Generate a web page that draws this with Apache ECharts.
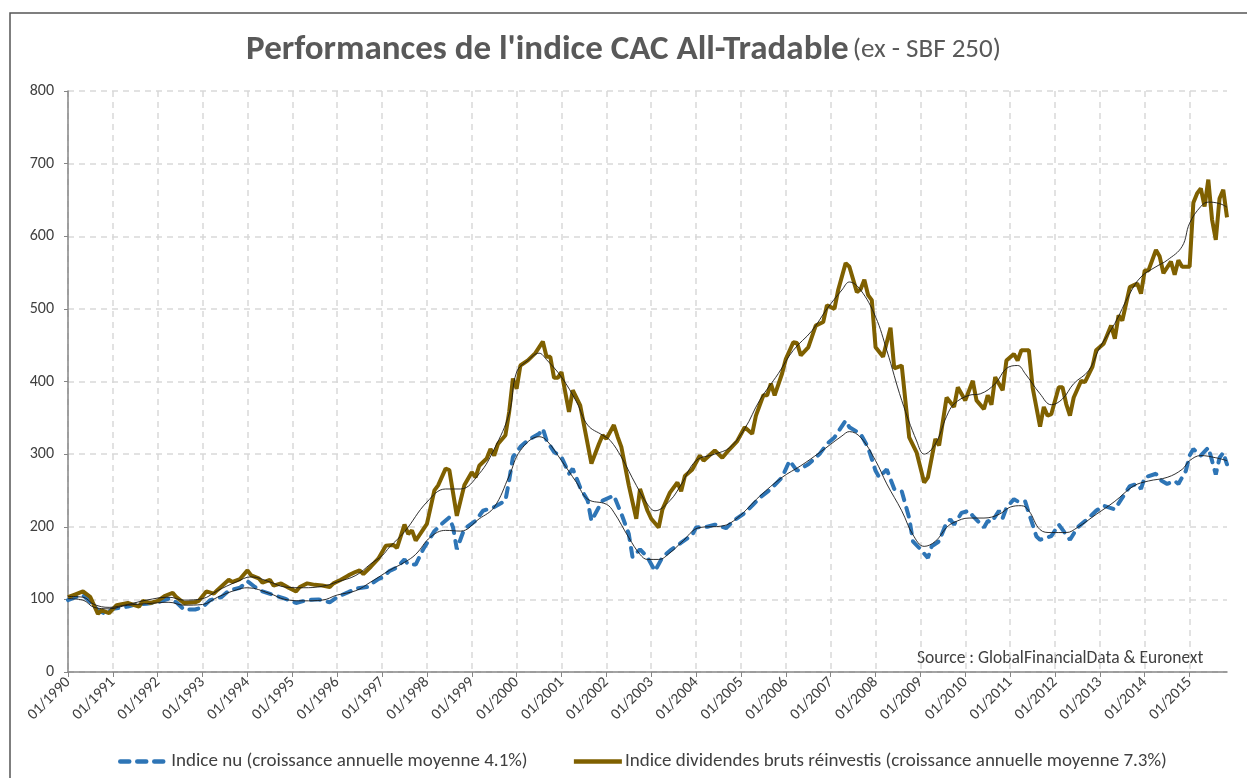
<!DOCTYPE html>
<html>
<head>
<meta charset="utf-8">
<script src="https://cdn.jsdelivr.net/npm/echarts@6/dist/echarts.min.js"></script>
<style>
  html, body { margin: 0; padding: 0; background: #fff; }
  #chart { width: 1247px; height: 778px; }
</style>
</head>
<body>
<div id="chart"></div>
<script>
// month labels 01/1990 .. 11/2015
const months = [];
for (let i = 0; i < 311; i++) {
  const y = 1990 + Math.floor(i / 12), m = (i % 12) + 1;
  months.push(String(m).padStart(2, '0') + '/' + y);
}

// [month index, value]
const indiceNu = [
  [0,99],[2,103],[4,106],[6,96],[8,85],[10,80],[12,87],[16,90],[18,93],[21,94],[24,96],[27,101],[29,96],
  [31,86],[34,86],[36,89],[38,99],[41,103],[43,112],[46,116],[48,125],[50,117],[52,111],[55,106],[58,101],
  [61,95],[64,99],[67,100],[70,96],[72,103],[75,110],[77,115],[80,117],[83,128],[84,130],[86,139],[88,144],
  [90,155],[91,148],[93,148],[95,169],[98,194],[100,204],[102,213],[103,199],[104,169],[106,197],[109,208],
  [111,222],[114,227],[117,236],[118,264],[119,296],[121,310],[123,319],[126,328],[127,335],[128,319],
  [130,303],[132,296],[134,273],[135,280],[137,254],[139,236],[140,208],[142,227],[143,236],[146,243],
  [148,218],[150,190],[151,158],[153,169],[155,158],[157,139],[159,158],[161,167],[164,178],[167,189],
  [168,199],[171,200],[173,203],[176,198],[178,208],[181,219],[183,229],[185,240],[188,252],[191,268],
  [193,291],[195,277],[198,286],[201,300],[203,314],[205,323],[208,346],[209,337],[212,328],[214,309],
  [216,277],[217,268],[219,279],[221,252],[223,249],[225,212],[226,180],[228,169],[230,157],[231,173],
  [233,180],[235,206],[236,210],[237,203],[239,219],[241,222],[242,215],[245,199],[246,208],[247,206],
  [249,222],[250,212],[251,226],[253,238],[254,235],[256,235],[257,219],[259,187],[260,182],[263,187],
  [265,203],[266,196],[268,182],[270,199],[273,212],[275,222],[277,229],[280,224],[282,240],[284,256],
  [286,259],[287,252],[288,268],[291,273],[292,265],[294,259],[296,263],[297,259],[299,277],[300,298],
  [301,307],[303,298],[305,309],[306,291],[307,272],[308,295],[309,302],[310,286]
];

const indiceDiv = [
  [0,103],[2,107],[4,111],[6,103],[8,80],[9,85],[11,81],[13,92],[16,95],[19,90],[20,98],[22,95],[24,98],
  [26,105],[28,109],[29,103],[31,95],[34,96],[35,98],[37,111],[39,108],[40,113],[43,127],[44,124],[46,128],
  [48,140],[49,133],[51,129],[52,123],[54,127],[55,119],[57,122],[59,116],[61,111],[62,117],[64,122],
  [66,120],[68,119],[70,117],[71,122],[73,127],[75,133],[77,138],[78,140],[79,135],[81,145],[83,156],
  [85,174],[87,175],[88,171],[90,203],[91,190],[92,195],[93,181],[96,204],[98,250],[99,257],[101,280],
  [102,278],[104,215],[106,257],[108,275],[109,268],[110,284],[112,294],[113,307],[114,298],[115,314],
  [117,326],[118,358],[119,404],[120,390],[121,422],[123,429],[125,439],[127,455],[128,434],[129,434],
  [130,405],[131,405],[132,413],[134,358],[135,388],[137,367],[140,287],[142,314],[143,326],[144,321],
  [146,340],[147,324],[148,310],[150,257],[152,211],[153,252],[155,222],[156,211],[158,199],[159,224],
  [161,247],[163,261],[164,249],[165,270],[167,279],[169,298],[170,291],[173,305],[175,295],[177,307],
  [179,318],[181,337],[183,328],[184,353],[186,381],[187,381],[188,397],[189,381],[191,411],[192,431],
  [194,454],[195,453],[196,436],[198,447],[200,477],[202,482],[203,505],[205,500],[206,526],[208,563],
  [209,558],[211,523],[212,527],[213,540],[214,519],[215,512],[216,447],[218,434],[220,474],[221,418],
  [223,422],[225,323],[227,302],[229,261],[230,268],[232,321],[233,312],[235,378],
  [237,365],[238,392],[240,374],[242,401],[243,374],[245,362],[246,381],[247,368],[248,406],[250,388],
  [251,429],[253,438],[254,429],[255,443],[257,443],[258,392],[260,338],[261,365],[262,353],[263,355],
  [265,392],[266,392],[267,369],[268,353],[269,378],[271,401],[272,399],[274,420],[275,443],[277,452],
  [279,477],[280,459],[281,491],[282,484],[284,530],[286,535],[287,521],[288,553],[289,553],[291,581],
  [292,572],[293,549],[295,565],[296,547],[297,567],[298,558],[300,558],[301,646],[302,659],[303,666],
  [304,641],[305,678],[306,623],[307,595],[308,652],[309,664],[310,626]
];

// thin smoothed lines
const trendNu = [
  [0,101],[4,99],[7,89],[11,87],[16,92],[21,94],[27,96],[31,92],[36,93],[40,103],[45,113],[48,116],
  [54,108],[58,100],[63,98],[68,99],[72,106],[77,112],[81,124],[86,140],[90,151],[93,162],[97,186],
  [101,195],[105,194],[110,211],[114,227],[118,270],[121,305],[126,324],[128,319],[132,291],[136,261],
  [139,238],[144,231],[146,220],[150,185],[153,162],[155,155],[158,155],[161,164],[164,178],[169,199],
  [175,201],[179,212],[185,242],[191,268],[196,284],[201,302],[207,325],[209,331],[212,323],[216,291],
  [219,259],[223,222],[226,189],[229,173],[232,180],[235,199],[237,206],[241,212],[245,212],[249,217],
  [252,227],[255,229],[257,222],[260,196],[263,192],[267,192],[270,199],[275,217],[280,235],[285,256],
  [289,263],[294,268],[298,279],[300,291],[303,298],[307,295],[310,291]
];

const trendDiv = [
  [0,104],[4,103],[7,93],[11,89],[16,93],[21,99],[27,103],[31,99],[36,101],[40,112],[45,124],[49,131],
  [54,124],[58,117],[63,116],[68,118],[72,124],[77,133],[81,149],[84,160],[86,172],[90,193],[96,234],
  [101,252],[105,252],[110,273],[114,307],[118,356],[120,413],[123,429],[126,439],[128,430],[132,406],
  [136,372],[139,340],[143,326],[145,319],[148,296],[152,257],[155,231],[157,222],[161,236],[164,258],
  [168,291],[173,300],[177,309],[181,335],[185,374],[190,411],[194,443],[199,470],[203,500],[207,526],
  [209,537],[212,526],[216,489],[219,443],[223,374],[227,318],[229,300],[232,314],[235,352],[237,369],
  [241,381],[244,383],[248,397],[251,418],[254,422],[256,411],[260,383],[263,368],[266,376],[269,397],
  [273,415],[276,447],[280,480],[284,521],[287,544],[291,558],[294,567],[298,586],[300,618],[303,641],
  [305,647],[308,645],[310,640]
];

const nameNu = 'Indice nu (croissance annuelle moyenne 4.1%)';
const nameDiv = 'Indice dividendes bruts réinvestis (croissance annuelle moyenne 7.3%)';
const font = 'Carlito, Lato, sans-serif';
const yearTick = (i) => i % 12 === 0;

const chart = echarts.init(document.getElementById('chart'));
chart.setOption({
  animation: false,
  textStyle: { fontFamily: font },
  title: {
    text: '{b|Performances de l\'indice CAC All-Tradable} {n|(ex - SBF 250)}',
    left: 'center',
    top: 28,
    textStyle: {
      rich: {
        b: { fontFamily: font, fontSize: 35, fontWeight: 'bold', color: '#595959' },
        n: { fontFamily: font, fontSize: 27, fontWeight: 'normal', color: '#595959' }
      }
    }
  },
  graphic: [
    { type: 'rect', shape: { x: 10, y: 13, width: 1300, height: 800 },
      style: { fill: 'none', stroke: '#555', lineWidth: 1.5 }, silent: true },
    { type: 'text', left: 917, top: 650,
      style: { text: 'Source : GlobalFinancialData & Euronext', font: '17.5px ' + font, fill: '#404040' } }
  ],
  legend: {
    data: [nameNu, nameDiv],
    bottom: 2,
    left: 113,
    itemWidth: 48,
    itemHeight: 14,
    itemGap: 44,
    itemStyle: { opacity: 0 },
    lineStyle: { width: 4.5 },
    textStyle: { fontSize: 19, color: '#404040', fontFamily: font, padding: [0, 0, 0, -2] }
  },
  grid: { left: 68, right: 20, top: 91, bottom: 106, containLabel: false },
  xAxis: {
    type: 'category',
    data: months,
    boundaryGap: false,
    axisLine: { lineStyle: { color: '#868686', width: 1.5 } },
    axisTick: { interval: yearTick, length: 5, lineStyle: { color: '#868686' } },
    axisLabel: { interval: yearTick, rotate: 45, fontSize: 15.5, color: '#404040', margin: 8 },
    splitLine: { show: true, interval: yearTick, lineStyle: { color: '#d9d9d9', type: [6, 5], width: 1.5 } }
  },
  yAxis: {
    type: 'value',
    min: 0, max: 800, interval: 100,
    axisLine: { show: true, lineStyle: { color: '#868686', width: 1.5 } },
    axisTick: { show: true, length: 4, lineStyle: { color: '#868686' } },
    axisLabel: { fontSize: 16, color: '#404040', margin: 14 },
    splitLine: { lineStyle: { color: '#d9d9d9', type: [6, 5], width: 1.5 } }
  },
  series: [
    { name: nameNu, type: 'line', data: indiceNu, symbol: 'none',
      lineStyle: { color: '#2e75b6', width: 4, type: [9, 8], cap: 'round' },
      itemStyle: { color: '#2e75b6' } },
    { name: nameDiv, type: 'line', data: indiceDiv, symbol: 'none',
      lineStyle: { color: '#7f6000', width: 4 },
      itemStyle: { color: '#7f6000' } },
    { name: 'tendance nu', type: 'line', data: trendNu, symbol: 'none', smooth: 0.4,
      lineStyle: { color: '#1a1a1a', width: 0.9 } },
    { name: 'tendance div', type: 'line', data: trendDiv, symbol: 'none', smooth: 0.4,
      lineStyle: { color: '#1a1a1a', width: 0.9 } }
  ]
});
</script>
</body>
</html>
